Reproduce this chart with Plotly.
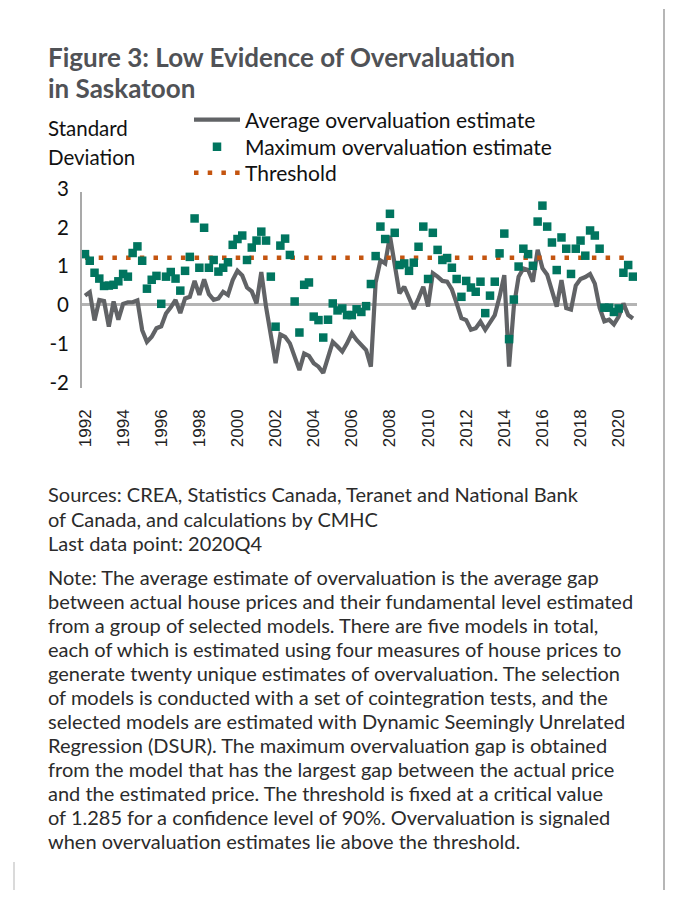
import plotly.graph_objects as go

# ---------------- data ----------------
years = list(range(1992, 2021))
quarters = [f"{y}Q{q}" for y in years for q in range(1, 5)]  # 1992Q1 .. 2020Q4 (116)
tick_years = [str(y) for y in range(1992, 2021, 2)]

average_est = [
    0.24, 0.33, -0.40, 0.13, 0.10, -0.56, 0.09, -0.38, 0.03, 0.07,
    0.07, 0.12, -0.65, -0.95, -0.82, -0.60, -0.55, -0.22, -0.06, 0.13,
    -0.21, 0.17, 0.21, 0.62, 0.26, 0.66, 0.28, 0.13, 0.17, 0.34,
    0.26, 0.64, 0.88, 0.76, 0.45, 0.35, 0.04, 0.85, -0.05, -0.85,
    -1.50, -0.76, -0.82, -0.99, -1.33, -1.68, -1.25, -1.31, -1.50, -1.59,
    -1.75, -1.30, -0.95, -1.07, -1.20, -0.99, -0.73, -0.90, -1.05, -1.16,
    -1.59, 0.58, 1.15, 1.07, 1.78, 1.10, 0.30, 0.47, 0.19, -0.10,
    0.17, 0.47, -0.04, 0.82, 0.73, 0.62, 0.60, 0.40, 0.04, -0.34,
    -0.39, -0.64, -0.60, -0.43, -0.64, -0.47, -0.26, 0.21, 0.77, -1.59,
    -0.04, 0.73, 0.94, 0.90, 0.60, 1.42, 0.95, 0.78, 0.40, -0.04,
    0.64, -0.08, -0.12, 0.50, 0.67, 0.72, 0.80, 0.55, -0.07, -0.42,
    -0.38, -0.50, -0.30, 0.04, -0.26, -0.35,
]

maximum_est = [
    1.31, 1.14, 0.83, 0.68, 0.49, 0.50, 0.52, 0.61, 0.80, 0.73,
    1.34, 1.51, 1.14, 0.42, 0.65, 0.75, 0.03, 0.73, 0.85, 0.68,
    0.37, 0.88, 1.24, 2.23, 0.96, 1.99, 0.96, 1.16, 0.86, 0.96,
    1.10, 1.55, 1.70, 1.79, 1.16, 1.48, 1.66, 1.89, 1.66, 0.73,
    -0.56, 1.53, 1.71, 1.29, 0.09, -0.71, 0.52, 0.58, -0.30, -0.39,
    -0.84, -0.38, 0.04, -0.14, -0.09, -0.26, -0.26, -0.11, -0.18, -0.03,
    0.54, 1.26, 2.02, 1.70, 2.35, 1.86, 1.03, 1.07, 0.88, 1.09,
    1.50, 2.02, 0.67, 1.86, 1.42, 1.16, 1.21, 0.96, 0.67, 0.21,
    0.62, 0.45, 0.34, 0.60, -0.21, 0.24, 0.60, 1.33, 1.84, -0.88,
    0.14, 0.99, 1.45, 1.31, 1.01, 2.15, 2.56, 2.02, 1.61, 0.90,
    1.74, 1.45, 0.80, 1.45, 1.66, 1.27, 1.92, 1.79, 1.45, -0.07,
    -0.07, -0.18, -0.09, 0.83, 1.03, 0.73,
]

threshold_value = 1.22
threshold = [threshold_value] * len(quarters)

y_ticks = [-2, -1, 0, 1, 2, 3]

title_lines = ["Figure 3: Low Evidence of Overvaluation", "in Saskatoon"]
y_title_lines = ["Standard", "Deviation"]
source_lines = [
    "Sources: CREA, Statistics Canada, Teranet and National Bank",
    "of Canada, and calculations by CMHC",
    "Last data point: 2020Q4",
]
note_lines = [
    "Note: The average estimate of overvaluation is the average gap",
    "between actual house prices and their fundamental level estimated",
    "from a group of selected models. There are five models in total,",
    "each of which is estimated using four measures of house prices to",
    "generate twenty unique estimates of overvaluation. The selection",
    "of models is conducted with a set of cointegration tests, and the",
    "selected models are estimated with Dynamic Seemingly Unrelated",
    "Regression (DSUR). The maximum overvaluation gap is obtained",
    "from the model that has the largest gap between the actual price",
    "and the estimated price. The threshold is fixed at a critical value",
    "of 1.285 for a confidence level of 90%. Overvaluation is signaled",
    "when overvaluation estimates lie above the threshold.",
]

# ---------------- layout geometry ----------------
OFF = 8                              # default page body margin
W, H = 673 - 2 * OFF, 898 - 2 * OFF  # figure size so the page fits the window without scrolling
# plot area in reference-screen pixels
PL, PR, PT, PB = 81, 637, 188, 388
Y_TOP, Y_BOT = 3.015, -2.14
X_LO, X_HI = -0.84, 115.85


def px(x):
    return (x - PL) / (PR - PL)


def py(y):
    return (PB - y) / (PB - PT)


idx = list(range(len(quarters)))
GRAY_LINE = "#616366"
TEAL = "#00755f"
ORANGE = "#c4540f"
TEXT = "#2b2b2b"
FONT = "Lato"

fig = go.Figure()
fig.add_trace(go.Scatter(
    x=idx, y=average_est, mode="lines", name="Average overvaluation estimate",
    line=dict(color=GRAY_LINE, width=4.2), legend="legend",
    customdata=quarters, hovertemplate="%{customdata}: %{y}<extra></extra>",
))
fig.add_trace(go.Scatter(
    x=idx, y=threshold, mode="lines", name="Threshold",
    line=dict(color=ORANGE, width=4.5, dash="4.5px,9.2px"), legend="legend3",
    customdata=quarters, hovertemplate="%{customdata}: %{y}<extra></extra>",
))
fig.add_trace(go.Scatter(
    x=idx, y=maximum_est, mode="markers", name="Maximum overvaluation estimate",
    marker=dict(symbol="square", color=TEAL, size=8.5), legend="legend2",
    customdata=quarters, hovertemplate="%{customdata}: %{y}<extra></extra>",
))

annotations = []
for k, t in enumerate(title_lines):
    annotations.append(dict(
        text=f"<b>{t}</b>", x=px(46), y=py(57 + 31 * k), xref="paper", yref="paper",
        xanchor="left", yanchor="middle", showarrow=False,
        font=dict(family=FONT, size=26, color="#505256"),
    ))
for k, t in enumerate(y_title_lines):
    annotations.append(dict(
        text=t, x=px(46), y=py(128 + 29 * k), xref="paper", yref="paper",
        xanchor="left", yanchor="middle", showarrow=False,
        font=dict(family=FONT, size=20.5, color="#111111"),
    ))
for k, t in enumerate(source_lines):
    annotations.append(dict(
        text=t, x=px(46), y=py(494 + 24.5 * k), xref="paper", yref="paper",
        xanchor="left", yanchor="middle", showarrow=False,
        font=dict(family=FONT, size=20, color=TEXT),
    ))
for k, t in enumerate(note_lines):
    annotations.append(dict(
        text=t, x=px(46), y=py(577 + 24 * k), xref="paper", yref="paper",
        xanchor="left", yanchor="middle", showarrow=False,
        font=dict(family=FONT, size=20, color=TEXT),
    ))

shapes = [
    # y axis line (stops a little below the top tick, like the reference)
    dict(type="line", xref="paper", yref="y", x0=0, x1=0, y0=Y_BOT, y1=2.91,
         line=dict(color="#a9a9a9", width=2)),
    # page frame lines
    dict(type="line", xref="paper", yref="paper", x0=px(664), x1=px(664), y0=py(9), y1=py(890),
         line=dict(color="#9e9e9e", width=1.5)),
    dict(type="line", xref="paper", yref="paper", x0=px(14), x1=px(14), y0=py(862), y1=py(890),
         line=dict(color="#b5b5b5", width=1)),
]

legend_common = dict(
    xanchor="left", yanchor="middle", bgcolor="rgba(0,0,0,0)",
    font=dict(family=FONT, size=21, color="#111111"), itemwidth=46,
)

fig.update_layout(
    width=W, height=H,
    margin=dict(l=PL - OFF, r=W - (PR - OFF), t=PT - OFF, b=H - (PB - OFF), pad=0),
    paper_bgcolor="white", plot_bgcolor="white",
    showlegend=True,
    legend=dict(x=px(189), y=py(120), **legend_common),
    legend2=dict(x=px(189), y=py(147), **legend_common),
    legend3=dict(x=px(189), y=py(173), **legend_common),
    xaxis=dict(
        range=[X_LO, X_HI], tickmode="array",
        tickvals=[i * 8 for i in range(len(tick_years))], ticktext=tick_years,
        tickangle=-90, showgrid=False, zeroline=False, showline=False, ticks="",
        tickfont=dict(family="Liberation Sans", size=17, color="#222222"),
        ticklabelstandoff=17,
    ),
    yaxis=dict(
        range=[Y_BOT, Y_TOP], tickmode="array", tickvals=y_ticks,
        ticktext=[str(v) for v in y_ticks],
        showgrid=False, zeroline=True, zerolinecolor="#b4b4b4", zerolinewidth=2.5,
        showline=False, ticks="",
        tickfont=dict(family=FONT, size=20.5, color="#111111"),
        ticklabelstandoff=11,
    ),
    annotations=annotations,
    shapes=shapes,
)

fig.write_html("out.html")
